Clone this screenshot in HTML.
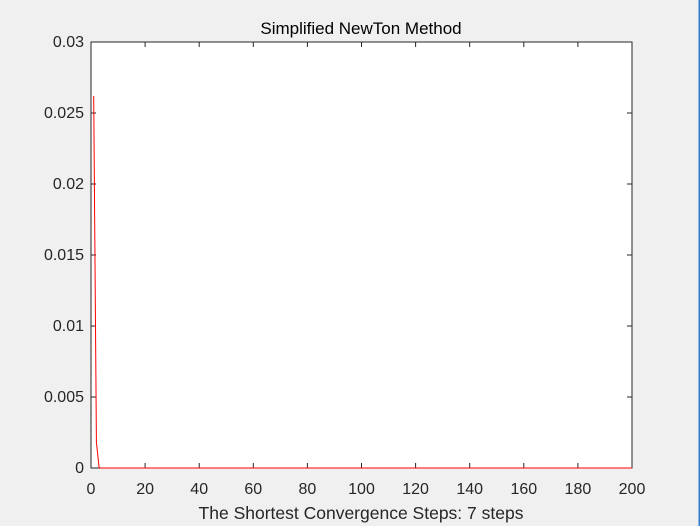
<!DOCTYPE html>
<html><head><meta charset="utf-8"><style>
html,body{margin:0;padding:0;background:#f0f0f0;}
svg{display:block;font-family:"Liberation Sans",Arial,sans-serif;}
</style></head><body>
<svg id="chart" width="700" height="526" viewBox="0 0 700 526" xmlns="http://www.w3.org/2000/svg">
<rect x="0" y="0" width="700" height="526" fill="#f0f0f0"/>
<rect x="698.5" y="0" width="1.5" height="526" fill="#2b7cd3"/>
<rect x="91" y="42" width="541" height="426" fill="#ffffff"/>
<g id="ticks"></g>
<rect x="91" y="42" width="541" height="426" fill="none" stroke="#262626" stroke-width="1"/>
<polyline id="series" fill="none" stroke="#ff0000" stroke-width="1"/>
<text x="361" y="34" text-anchor="middle" font-size="17" fill="#000">Simplified NewTon Method</text>
<text x="361" y="519" text-anchor="middle" font-size="17.5" fill="#262626">The Shortest Convergence Steps: 7 steps</text>
</svg>
<script>
const xTicks = [0,20,40,60,80,100,120,140,160,180,200];
const yTicks = [0,0.005,0.01,0.015,0.02,0.025,0.03];
const yTickLabels = ["0","0.005","0.01","0.015","0.02","0.025","0.03"];
const errValues = [0.0262,0.0018,0.00002,0,0,0,0,0,0,0,0,0,0,0,0,0,0,0,0,0,
0,0,0,0,0,0,0,0,0,0,0,0,0,0,0,0,0,0,0,0,
0,0,0,0,0,0,0,0,0,0,0,0,0,0,0,0,0,0,0,0,
0,0,0,0,0,0,0,0,0,0,0,0,0,0,0,0,0,0,0,0,
0,0,0,0,0,0,0,0,0,0,0,0,0,0,0,0,0,0,0,0,
0,0,0,0,0,0,0,0,0,0,0,0,0,0,0,0,0,0,0,0,
0,0,0,0,0,0,0,0,0,0,0,0,0,0,0,0,0,0,0,0,
0,0,0,0,0,0,0,0,0,0,0,0,0,0,0,0,0,0,0,0,
0,0,0,0,0,0,0,0,0,0,0,0,0,0,0,0,0,0,0,0,
0,0,0,0,0,0,0,0,0,0,0,0,0,0,0,0,0,0,0,0];
const L=91,R=632,T=42,B=468;
function xs(v){return L+(v-0)/(200-0)*(R-L);}
function ys(v){return B-(v-0)/(0.03-0)*(B-T);}
const NS="http://www.w3.org/2000/svg";
const g=document.getElementById('ticks');
function mk(tag,attrs){const e=document.createElementNS(NS,tag);for(const k in attrs)e.setAttribute(k,attrs[k]);return e;}
xTicks.forEach((t,i)=>{
  const x=xs(t);
  const a=mk('line',{x1:x,y1:B,x2:x,y2:B-5,stroke:'#262626'});
  
  
  g.appendChild(a);
  const b=mk('line',{x1:x,y1:T,x2:x,y2:T+5,stroke:'#262626'});
  
  
  g.appendChild(b);
  const tx=mk('text',{x:x,y:B+26,'text-anchor':'middle','font-size':'16',fill:'#262626'});
  tx.textContent=String(t);
  
  
  g.appendChild(tx);
});
yTicks.forEach((t,i)=>{
  const y=ys(t);
  const a=mk('line',{x1:L,y1:y,x2:L+5,y2:y,stroke:'#262626'});
  
  
  g.appendChild(a);
  const b=mk('line',{x1:R,y1:y,x2:R-5,y2:y,stroke:'#262626'});
  
  
  g.appendChild(b);
  const tx=mk('text',{x:L-7,y:y+5,'text-anchor':'end','font-size':'16',fill:'#262626'});
  tx.textContent=yTickLabels[i];
  
  
  g.appendChild(tx);
});
document.getElementById('series').setAttribute('points',errValues.map((v,i)=>xs(i+1)+','+ys(v)).join(' '));
</script>
</body></html>
